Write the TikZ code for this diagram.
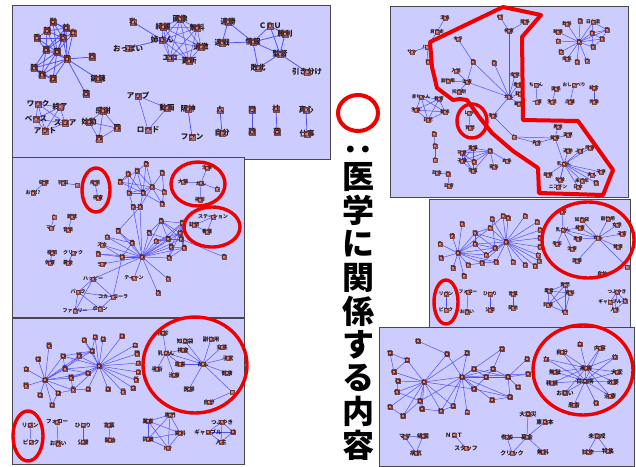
\documentclass[tikz,border=0pt]{standalone}
\usepackage{fontspec}
\setmainfont{Noto Sans CJK JP}
\definecolor{panel}{RGB}{204,204,255}
\definecolor{edgec}{RGB}{80,80,248}
\definecolor{mkf}{RGB}{245,125,95}
\definecolor{mkd}{RGB}{105,45,40}
\definecolor{txt}{RGB}{35,25,25}
\definecolor{ringred}{RGB}{238,0,0}
\pgfdeclarelayer{bg}
\pgfdeclarelayer{edges}
\pgfsetlayers{bg,edges,main}
\newcommand\mkclique[1]{%
  \foreach \u [count=\ci] in {#1}{%
    \foreach \v [count=\cj] in {#1}{%
      \ifnum\ci<\cj\relax\draw[edge] (\u.center)--(\v.center);\fi}}}
\begin{document}
\begin{tikzpicture}[x=1pt,y=-1pt,
  pnl/.style={draw=black!72, line width=0.9pt, fill=panel},
  edge/.style={draw=edgec, line width=0.5pt},
  mko/.style={fill=mkd, fill opacity=0.55, draw=mkd, draw opacity=0.8, line width=0.3pt, minimum width=3.6pt, minimum height=3.6pt, inner sep=0pt, outer sep=0pt},
  mki/.style={fill=mkf, draw=none, minimum width=1.7pt, minimum height=1.7pt, inner sep=0pt, outer sep=0pt},
  mkbo/.style={mko, minimum width=6pt, minimum height=6pt, line width=0.4pt},
  mkbi/.style={mki, minimum width=2.6pt, minimum height=2.6pt},
  nd/.style={inner sep=0pt, text=txt, font=\fontsize{#1}{#1}\selectfont\bfseries, label={[mko]center:}, label={[mki]center:}},
  nd/.default=5,
  nb/.style={inner sep=0pt, text=txt, font=\fontsize{7.5}{7.5}\selectfont\bfseries, label={[mkbo]center:}, label={[mkbi]center:}},
  ring/.style={draw=ringred, line width=3.4pt},
  bigt/.style={inner sep=0pt, font=\fontsize{32}{32}\selectfont\bfseries, text=black}]
\useasboundingbox (0,0) rectangle (636,466);
\begin{pgfonlayer}{bg}
\fill[white] (0,0) rectangle (636,466);
\draw[pnl] (12,5) rectangle (330,159);
\draw[pnl] (390,6) rectangle (628,197);
\draw[pnl] (12,157) rectangle (244,317);
\draw[pnl] (429,199) rectangle (630,327);
\draw[pnl] (12,318) rectangle (244,464);
\draw[pnl] (379,327) rectangle (634,466);
\end{pgfonlayer}

% ---------------- Panel 1 ----------------
\node[nb] (Aa1) at (53,22) {髪};
\node[nb] (Aa2) at (66,28) {首};
\node[nb] (Aa3) at (47,31) {顔};
\node[nb] (Aa4) at (73,33) {炎};
\node[nb] (Aa5) at (37,38) {舌};
\node[nb] (Aa6) at (63,38) {肌};
\node[nb] (Aa7) at (46,50) {肩};
\node[nb] (Aa8) at (57,52) {腰};
\node[nb] (Aa9) at (67,59) {胃};
\node[nb] (Aa10) at (92,57) {筋};
\node[nb] (Aa11) at (34,68) {腕};
\node[nb] (Aa12) at (42,75) {胸};
\node[nb] (Aa13) at (53,79) {腹};
\node[nb] (Aa14) at (98,79) {鍛錬};
\node[nb] (Aa15) at (86,94) {薬};
\node[nb] (Ab1) at (133,22) {乳};
\node[nb] (Ab2) at (162,40) {姉さん};
\node[nb] (Ab3) at (128,48) {おっぱい};
\node[nb] (Ab4) at (163,27) {綺麗};
\node[nb] (Ab5) at (180,19) {画像};
\node[nb] (Ab6) at (197,28) {無料};
\node[nb] (Ab7) at (201,47) {過激};
\node[nb] (Ab8) at (170,58) {エロ};
\node[nb] (Ab9) at (189,61) {更新};
\node[nb] (Ac1) at (228,22) {連勝};
\node[nb] (Ac2) at (222,43) {連戦};
\node[nb] (Ac3) at (253,42) {情報};
\node[nb] (Ac4) at (270,26) {ＣＰＵ};
\node[nb] (Ac5) at (285,34) {勝利};
\node[nb] (Ac6) at (280,54) {監督};
\node[nb] (Ac7) at (258,68) {敗北};
\node[nb] (Ac8) at (307,72) {引き分け};
\node[nb] (Ad1) at (38,104) {ワーク};
\node[nb] (Ad2) at (60,107) {終了};
\node[nb] (Ad3) at (36,119) {ベース};
\node[nb] (Ad4) at (65,123) {スコア};
\node[nb] (Ad5) at (45,131) {アウト};
\node[nb] (Ae1) at (103,111) {感謝};
\node[nb] (Ae2) at (89,122) {始動};
\node[nb] (Ae3) at (117,128) {再};
\node[nb] (Ae4) at (99,139) {声};
\node[nb] (Af1) at (138,96) {アップ};
\node[nb] (Af2) at (167,108) {動画};
\node[nb] (Af3) at (148,130) {ロード};
\node[nb] (Ag1) at (188,109) {阪神};
\node[nb] (Ag2) at (192,137) {ファン};
\node[nb] (Ah1) at (220,110) {人};
\node[nb] (Ah2) at (222,133) {自分};
\node[nb] (Ai1) at (252,110) {問};
\node[nb] (Ai2) at (252,132) {題};
\node[nb] (Aj1) at (276,109) {枕};
\node[nb] (Aj2) at (277,132) {著};
\node[nb] (Ak1) at (306,110) {真心};
\node[nb] (Ak2) at (307,134) {仕事};

% ---------------- Panel 2 ----------------
\node[nd=4.6] (Bt1) at (445,18) {漢島};
\node[nd=4.6] (Bt2) at (437,32) {貝宮史};
\node[nd=4.6] (Bt3) at (427,47) {ハウ};
\node[nd=4.6] (Bt4) at (412,52) {サン};
\node[nd=4.6] (Bt5) at (428,62) {新};
\node[nd=4.6] (Bm1) at (500,17) {OT};
\node[nd=4.6] (Bm2) at (525,22) {関係};
\node[nd=4.6] (Bm3) at (509,31) {検査};
\node[nd=4.6] (Bm4) at (458,39) {キラ};
\node[nd=4.6] (Bm5) at (473,62) {菌};
\node[nd=4.6] (Bm6) at (494,63) {薬};
\node[nd=4.6] (Bm7) at (456,71) {入院};
\node[nd=4.6] (Bm8) at (448,81) {副作用};
\node[nd=4.6] (Bm9) at (467,82) {治療};
\node[nd=4.6] (Bm10) at (459,92) {抗癌剤};
\node[nd=4.6] (Bm11) at (515,75) {病院};
\node[nd=4.6] (Bm12) at (518,85) {患者};
\node[nd=4.6] (Bm13) at (520,94) {転移};
\node[nd=4.6] (Bm14) at (509,97) {がん};
\node[nd=4.6] (Bm15) at (519,104) {細胞};
\node[nd=4.6] (Bm16) at (493,116) {手術};
\node[nd=4.6] (Bm17) at (514,137) {人};
\node[nd=4.6] (Bs1) at (469,113) {レバ};
\node[nd=4.6] (Bs2) at (470,128) {質問};
\node[nd=4.6] (Bn2) at (558,127) {男性};
\node[nd=4.6] (Bn3) at (555,138) {健康};
\node[nd=4.6] (Bn4) at (568,135) {変更};
\node[nd=4.6] (Bn5) at (537,143) {先生};
\node[nd=4.6] (Bn6) at (568,151) {運動};
\node[nd=4.6] (Bn7) at (580,151) {ぶず};
\node[nd=4.6] (Bn8) at (590,148) {障害};
\node[nd=4.6] (Bn9) at (564,164) {乳がん};
\node[nd=4.6] (Bn10) at (601,172) {子供};
\node[nd=4.6] (Bn11) at (592,175) {夫人};
\node[nd=4.6] (Bn12) at (596,183) {膣};
\node[nd=4.6] (Bn13) at (548,175) {母親};
\node[nd=4.6] (Bn14) at (560,180) {年齢};
\node[nd=4.6] (Bn15) at (582,181) {未成年};
\node[nd=4.6] (Bn16) at (578,187) {日本};
\node[nd=4.6] (Bn17) at (558,187) {ニコチン};
\node[nd=4.6] (Bl1) at (421,97) {赤ちゃん};
\node[nd=4.6] (Bl2) at (439,99) {教育};
\node[nd=4.6] (Bl3) at (416,110) {生後};
\node[nd=4.6] (Bl4) at (445,112) {新米};
\node[nd=4.6] (Bl5) at (428,120) {日記};
\node[nd=4.6] (Bo1) at (434,134) {思};
\node[nd=4.6] (Bo2) at (435,146) {母};
\node[nd=4.6] (Bo3) at (435,160) {女};
\node[nd=4.6] (Bw1) at (473,148) {愛猫};
\node[nd=4.6] (Bw2) at (462,153) {可愛};
\node[nd=4.6] (Bw3) at (462,161) {子猫};
\node[nd=4.6] (Bw4) at (474,162) {暗};
\node[nd=4.6] (Bw5) at (490,151) {猫};
\node[nd=4.6] (Bw6) at (473,171) {写真};
\node[nd=4.6] (Bw7) at (507,161) {ぬあ};
\node[nd=4.6] (Bw8) at (494,167) {猫缶};
\node[nd=4.6] (Bx1) at (437,173) {政治};
\node[nd=4.6] (Bx2) at (448,174) {国};
\node[nd=4.6] (Bx3) at (449,186) {政府};
\node[nd=4.6] (By1) at (567,24) {飲料};
\node[nd=4.6] (By2) at (580,21) {酒};
\node[nd=4.6] (By3) at (593,22) {日本酒};
\node[nd=4.6] (By4) at (558,32) {睡眠};
\node[nd=4.6] (By5) at (558,41) {水};
\node[nd=4.6] (By6) at (579,42) {茶};
\node[nd=4.6] (By7) at (592,33) {肉};
\node[nd=4.6] (By8) at (607,30) {葉};
\node[nd=4.6] (By9) at (602,39) {熱};
\node[nd=4.6] (By10) at (593,47) {糖};
\node[nd=4.6] (By11) at (561,52) {酢};
\node[nd=4.6] (By12) at (567,59) {病気};
\node[nd=4.6] (By13) at (577,62) {塩};
\node[nd=4.6] (By14) at (587,61) {味};
\node[nd=4.6] (Bz1) at (536,85) {ちゃん};
\node[nd=4.6] (Bz2) at (537,102) {一緒};
\node[nd=4.6] (Bz3) at (556,89) {国民};
\node[nd=4.6] (Bz4) at (552,102) {生活};
\node[nd=4.6] (Bz5) at (574,85) {おしゃべり};
\node[nd=4.6] (Bz6) at (570,102) {店舗};
\node[nd=4.6] (Bz7) at (594,88) {結合};
\node[nd=4.6] (Bz8) at (594,102) {労働};

% ---------------- Panel 3 ----------------
\node[nd] (Cr1) at (44,183) {研修};
\node[nd] (Cr2) at (33,193) {お母!?};
\node[nd] (Cr3) at (63,183) {羽田};
\node[nd] (Cr4) at (77,185) {};
\node[nd] (Cr5) at (95,183) {病院};
\node[nd] (Cr6) at (98,198) {検査};
\node[nd] (Cr7) at (54,217) {0};
\node[nd] (Cr8) at (51,228) {マイ};
\node[nd] (Cr9) at (72,217) {雑誌};
\node[nd] (Cr10) at (68,230) {音楽};
\node[nd] (Cr11) at (52,253) {福岡};
\node[nd] (Cr12) at (50,263) {佐賀};
\node[nd] (Cr13) at (73,253) {クリック};
\node[nd] (Cr14) at (68,263) {募金};
\node[nd] (Cu1) at (207,168) {治療};
\node[nd] (Cu2) at (183,182) {大腸};
\node[nd] (Cu3) at (201,183) {がん};
\node[nd] (Cu4) at (217,189) {人};
\node[nd] (Cu5) at (200,200) {検診};
\node[nd] (Cv1) at (213,217) {ステーション};
\node[nd] (Cv2) at (194,225) {訪問};
\node[nd] (Cv3) at (207,232) {看護};
\node[nd] (Ck1) at (146,164) {春};
\node[nd] (Ck2) at (128,174) {梅};
\node[nd] (Ck3) at (137,171) {桜};
\node[nd] (Ck4) at (162,173) {花};
\node[nd] (Ck5) at (120,182) {夏};
\node[nd] (Ck6) at (152,187) {月};
\node[nd] (Ck7) at (129,193) {秋};
\node[nd] (Ck8) at (143,193) {雪};
\node[nd] (Ck9) at (164,192) {冬};
\node[nd] (Ck10) at (133,207) {雨};
\node[nd] (Ck11) at (140,207) {晴};
\node[nd] (Ck12) at (162,204) {風};
\node[nd] (Cg1) at (161,221) {星};
\node[nd] (Cg2) at (182,223) {愛};
\node[nd] (Cg3) at (149,233) {夢};
\node[nd] (Cg4) at (156,241) {心};
\node[nd] (Cg5) at (168,239) {空};
\node[nd] (Cg6) at (181,239) {海};
\node[nd] (Cg7) at (180,233) {光};
\node[nd] (Cg8) at (118,231) {雲};
\node[nd] (Cg9) at (107,237) {水};
\node[nd] (Cg10) at (132,243) {風};
\node[nd] (Cg11) at (171,247) {君};
\node[nd] (Cg12) at (184,248) {僕};
\node[nd] (Cg13) at (169,258) {歌};
\node[nd] (Cg14) at (224,257) {恋};
\node[nd] (Cg15) at (102,245) {ズカ};
\node[nd] (Cg16) at (98,254) {音};
\node[nd] (Cg17) at (122,257) {絵};
\node[nd] (Cg18) at (142,257) {私};
\node[nd] (Cg19) at (102,264) {ラブ};
\node[nd] (Cg20) at (93,279) {ハッピー};
\node[nd] (Cg21) at (134,278) {ティーン};
\node[nd] (Cg22) at (168,279) {友};
\node[nd] (Cg23) at (158,293) {旅};
\node[nd] (Cg24) at (78,292) {パーク};
\node[nd] (Cg25) at (113,297) {コカ・コーラ};
\node[nd] (Cg26) at (75,311) {ファミリー};
\node[nd] (Cg27) at (100,309) {ボタン};

% ---------------- Panel 4 ----------------
\node[nd=4.7] (Dq1) at (462,224) {寝};
\node[nd=4.7] (Dq2) at (452,236) {帽};
\node[nd=4.7] (Dq3) at (440,244) {食};
\node[nd=4.7] (Dq4) at (441,258) {眠};
\node[nd=4.7] (Dq5) at (453,268) {服};
\node[nd=4.7] (Dq6) at (464,276) {靴};
\node[nd=4.7] (Dq7) at (458,253) {顔};
\node[nd=4.7] (Dq8) at (468,265) {彩};
\node[nd=4.7] (Dq9) at (475,233) {鶏};
\node[nd=4.7] (Dq10) at (475,244) {肌};
\node[nd=4.7] (Dq11) at (482,263) {眼};
\node[nd=4.7] (Dq12) at (492,219) {足};
\node[nd=4.7] (Dq13) at (490,228) {手};
\node[nd=4.7] (Dq14) at (503,216) {髪};
\node[nd=4.7] (Dq15) at (508,218) {腕};
\node[nd=4.7] (Dq16) at (495,248) {頭};
\node[nd=4.7] (Dq17) at (496,262) {胸};
\node[nd=4.7] (Dq18) at (486,255) {骨};
\node[nd=4.7] (Dq19) at (506,242) {耳};
\node[nd=4.7] (Dq20) at (525,216) {鼻};
\node[nd=4.7] (Dq21) at (513,262) {舌};
\node[nd=4.7] (Dq22) at (525,265) {尻};
\node[nd=4.7] (Dq23) at (535,266) {歯};
\node[nd=4.7] (Dq24) at (537,222) {背};
\node[nd=4.7] (Dq25) at (540,230) {指};
\node[nd=4.7] (Dq26) at (540,238) {腹};
\node[nd=4.7] (Dq27) at (540,247) {腰};
\node[nd=4.7] (Dq28) at (538,255) {太};
\node[nd=4.7] (Dq29) at (539,261) {爪};
\node[nd=4.7] (Dsa) at (562,212) {検診};
\node[nd=4.7] (Dsb) at (582,220) {知恵袋};
\node[nd=4.7] (Dsc) at (608,219) {副作用};
\node[nd=4.7] (Dsd) at (617,225) {女性};
\node[nd=4.7] (Dse) at (563,230) {乳がん};
\node[nd=4.7] (Dsf) at (580,228) {検査};
\node[nd=4.7] (Dsg) at (622,234) {子宮};
\node[nd=4.7] (Dsh) at (557,244) {手術};
\node[nd=4.7] (Dsi) at (578,239) {患者};
\node[nd=4.7] (Dsj) at (598,238) {がん};
\node[nd=4.7] (Dsk) at (572,249) {治療};
\node[nd=4.7] (Dsl) at (618,247) {健康};
\node[nd=4.7] (Dsm) at (577,261) {医師};
\node[nd=4.7] (Dsn) at (602,274) {自分};
\node[nd=4.7] (Dso) at (627,267) {};
\node[nd=4.7] (Dta) at (446,294) {リボン};
\node[nd=4.7] (Dtb) at (446,310) {ピンク};
\node[nd=4.7] (Dtc) at (468,292) {フォロー};
\node[nd=4.7] (Dtd) at (467,312) {お願い};
\node[nd=4.7] (Dte) at (490,294) {ひとり};
\node[nd=4.7] (Dtf) at (490,310) {公開};
\node[nd=4.7] (Dtg) at (513,294) {言葉};
\node[nd=4.7] (Dth) at (513,308) {開始};
\node[nd=4.7] (Dti) at (565,285) {専門};
\node[nd=4.7] (Dtj) at (549,291) {業者};
\node[nd=4.7] (Dtk) at (570,293) {資料};
\node[nd=4.7] (Dtl) at (548,305) {詳細};
\node[nd=4.7] (Dtm) at (565,312) {HP};
\node[nd=4.7] (Dtn) at (617,292) {つぶやき};
\node[nd=4.7] (Dto) at (610,302) {ギャンブル};
\node[nd=4.7] (Dtp) at (625,301) {縁};
\node[nd=4.7] (Dtq) at (615,310) {人生};

% ---------------- Panel 5 ----------------
\node[nd=5.5] (Eq1) at (49,346) {服};
\node[nd=5.5] (Eq2) at (38,359) {帽};
\node[nd=5.5] (Eq3) at (26,369) {食};
\node[nd=5.5] (Eq4) at (26,386) {眠};
\node[nd=5.5] (Eq5) at (40,395) {靴};
\node[nd=5.5] (Eq6) at (45,380) {顔};
\node[nd=5.5] (Eq7) at (63,356) {鶏};
\node[nd=5.5] (Eq8) at (65,369) {肌};
\node[nd=5.5] (Eq9) at (71,378) {眼};
\node[nd=5.5] (Eq10) at (73,390) {骨};
\node[nd=5.5] (Eq11) at (79,356) {頭};
\node[nd=5.5] (Eq12) at (84,340) {手};
\node[nd=5.5] (Eq13) at (95,337) {足};
\node[nd=5.5] (Eq14) at (103,339) {髪};
\node[nd=5.5] (Eq15) at (122,336) {腕};
\node[nd=5.5] (Eq16) at (92,351) {耳};
\node[nd=5.5] (Eq17) at (88,373) {胸};
\node[nd=5.5] (Eq18) at (88,389) {鼻};
\node[nd=5.5] (Eq19) at (99,366) {背};
\node[nd=5.5] (Eq20) at (58,393) {指};
\node[nd=5.5] (Eq21) at (52,405) {彩};
\node[nd=5.5] (Eq22) at (108,389) {腹};
\node[nd=5.5] (Eq23) at (123,392) {尻};
\node[nd=5.5] (Eq24) at (133,388) {歯};
\node[nd=5.5] (Eq25) at (135,345) {太};
\node[nd=5.5] (Eq26) at (137,354) {腰};
\node[nd=5.5] (Eq27) at (138,363) {爪};
\node[nd=5.5] (Eq28) at (138,372) {舌};
\node[nd=5.5] (Eq29) at (136,380) {唇};
\node[nd=5.5] (Esa) at (163,333) {検診};
\node[nd=5.5] (Esb) at (185,341) {知恵袋};
\node[nd=5.5] (Esc) at (211,339) {副作用};
\node[nd=5.5] (Esd) at (222,347) {女性};
\node[nd=5.5] (Ese) at (166,353) {乳がん};
\node[nd=5.5] (Esf) at (183,350) {検査};
\node[nd=5.5] (Esg) at (228,358) {子宮};
\node[nd=5.5] (Esh) at (157,369) {手術};
\node[nd=5.5] (Esi) at (180,364) {患者};
\node[nd=5.5] (Esj) at (203,364) {がん};
\node[nd=5.5] (Esk) at (174,375) {治療};
\node[nd=5.5] (Esl) at (227,373) {健康};
\node[nd=5.5] (Esm) at (189,389) {医師};
\node[nd=5.5] (Esn) at (209,402) {自分};
\node[nd=5.5] (Eso) at (232,392) {};
\node[nd=5.5] (Eta) at (30,425) {リボン};
\node[nd=5.5] (Etb) at (31,442) {ピンク};
\node[nd=5.5] (Etc) at (57,422) {フォロー};
\node[nd=5.5] (Etd) at (58,444) {お願い};
\node[nd=5.5] (Ete) at (83,425) {ひとり};
\node[nd=5.5] (Etf) at (83,442) {公開};
\node[nd=5.5] (Etg) at (109,425) {言葉};
\node[nd=5.5] (Eth) at (110,440) {開始};
\node[nd=5.5] (Eti) at (170,415) {専門};
\node[nd=5.5] (Etj) at (148,421) {業者};
\node[nd=5.5] (Etk) at (180,433) {資料};
\node[nd=5.5] (Etl) at (148,439) {詳細};
\node[nd=5.5] (Etm) at (168,448) {HP};
\node[nd=5.5] (Etn) at (222,422) {つぶやき};
\node[nd=5.5] (Eto) at (208,432) {ギャンブル};
\node[nd=5.5] (Etp) at (233,432) {縁};
\node[nd=5.5] (Etq) at (221,442) {人生};

% ---------------- Panel 6 ----------------
\node[nd=5.8] (Fv1) at (418,341) {株};
\node[nd=5.8] (Fv2) at (390,353) {雪};
\node[nd=5.8] (Fv3) at (407,360) {宝};
\node[nd=5.8] (Fv4) at (394,372) {幡};
\node[nd=5.8] (Fv5) at (398,381) {種};
\node[nd=5.8] (Fv6) at (397,392) {例};
\node[nd=5.8] (Fv7) at (390,407) {季};
\node[nd=5.8] (Fv8) at (403,416) {鍋};
\node[nd=5.8] (Fv9) at (420,401) {寒};
\node[nd=5.8] (Fv10) at (422,409) {暖};
\node[nd=5.8] (Fv11) at (441,411) {熱};
\node[nd=5.8] (Fv12) at (453,406) {温};
\node[nd=5.8] (Fv13) at (424,382) {冬};
\node[nd=5.8] (Fv14) at (447,354) {春};
\node[nd=5.8] (Fv15) at (467,353) {夏};
\node[nd=5.8] (Fv16) at (462,377) {秋};
\node[nd=5.8] (Fv17) at (467,412) {え};
\node[nd=5.8] (Fv18) at (474,369) {雨};
\node[nd=5.8] (Fv19) at (493,369) {雲};
\node[nd=5.8] (Fv20) at (486,377) {雷};
\node[nd=5.8] (Fv21) at (502,349) {霧};
\node[nd=5.8] (Fv22) at (527,359) {星};
\node[nd=5.8] (Fv23) at (528,374) {空};
\node[nd=5.8] (Fv24) at (508,377) {風};
\node[nd=5.8] (Fv25) at (518,387) {虹};
\node[nd=5.8] (Fv26) at (474,389) {晴};
\node[nd=5.8] (Fv27) at (492,400) {嵐};
\node[nd=5.8] (Fv28) at (510,397) {霜};
\node[nd=5.8] (Fx1) at (580,344) {血};
\node[nd=5.8] (Fx2) at (562,352) {自分};
\node[nd=5.8] (Fx3) at (600,348) {内容};
\node[nd=5.8] (Fx4) at (546,359) {力};
\node[nd=5.8] (Fx5) at (615,357) {体};
\node[nd=5.8] (Fx6) at (586,368) {疾病};
\node[nd=5.8] (Fx7) at (555,372) {無駄};
\node[nd=5.8] (Fx8) at (617,372) {大変};
\node[nd=5.8] (Fx9) at (585,381) {白血病};
\node[nd=5.8] (Fx10) at (552,383) {移植};
\node[nd=5.8] (Fx11) at (613,382) {必要};
\node[nd=5.8] (Fx12) at (565,393) {お願い};
\node[nd=5.8] (Fx13) at (610,396) {治療};
\node[nd=5.8] (Fx14) at (574,405) {患者};
\node[nd=5.8] (Fx15) at (596,403) {希};
\node[nd=5.8] (Fza) at (528,414) {大震災};
\node[nd=5.8] (Fzb) at (545,422) {東日本};
\node[nd=5.8] (Fzc) at (507,437) {参加};
\node[nd=5.8] (Fzd) at (527,437) {募金};
\node[nd=5.8] (Fze) at (512,453) {クリック};
\node[nd=5.8] (Fzf) at (543,452) {無料};
\node[nd=5.8] (Fzg) at (405,437) {ママ};
\node[nd=5.8] (Fzh) at (423,436) {帰国};
\node[nd=5.8] (Fzi) at (416,453) {病気};
\node[nd=5.8] (Fzj) at (454,435) {ＮＥＴ};
\node[nd=5.8] (Fzk) at (466,448) {スタッフ};
\node[nd=5.8] (Fzl) at (597,436) {未完成};
\node[nd=5.8] (Fzm) at (588,452) {試作};
\node[nd=5.8] (Fzn) at (608,451) {特集};

% ---------------- Edges ----------------
\begin{pgfonlayer}{edges}
% panel 1
\begin{scope}[every path/.append style={line width=0.75pt}]
\foreach \p/\q in {Aa1/Aa2,Aa1/Aa3,Aa1/Aa4,Aa1/Aa6,Aa1/Aa8,Aa2/Aa3,Aa2/Aa4,Aa2/Aa6,Aa2/Aa7,Aa2/Aa9,Aa3/Aa5,Aa3/Aa6,Aa3/Aa7,Aa3/Aa8,Aa4/Aa6,Aa4/Aa8,Aa4/Aa9,Aa5/Aa6,Aa5/Aa7,Aa6/Aa7,Aa6/Aa8,Aa6/Aa9,Aa7/Aa8,Aa7/Aa9,Aa7/Aa11,Aa7/Aa12,Aa8/Aa9,Aa8/Aa11,Aa8/Aa12,Aa8/Aa13,Aa9/Aa10,Aa9/Aa11,Aa9/Aa12,Aa9/Aa13,Aa9/Aa14,Aa9/Aa15,Aa11/Aa12,Aa12/Aa13,Aa11/Aa13,Aa5/Aa8,Aa2/Aa8,
  Ab1/Ab2,Ab3/Ab2,
  Ac1/Ac2,Ac1/Ac3,Ac2/Ac3,Ac3/Ac4,Ac3/Ac5,Ac3/Ac6,Ac3/Ac7,Ac4/Ac5,Ac4/Ac6,Ac5/Ac6,Ac6/Ac7,Ac6/Ac8,
  Ag1/Ag2,Ah1/Ah2,Ai1/Ai2,Aj1/Aj2,Ak1/Ak2}
  \draw[edge, line width=0.75pt] (\p.center)--(\q.center);
\end{scope}
\mkclique{Ab2,Ab4,Ab5,Ab6,Ab7,Ab8,Ab9}
\mkclique{Ad1,Ad2,Ad3,Ad4,Ad5}
\mkclique{Ae1,Ae2,Ae3,Ae4}
\mkclique{Af1,Af2,Af3}
% panel 2
\foreach \p/\q in {Bt1/Bt2,Bt2/Bt3,Bt3/Bt4,Bt3/Bt5,
  Bm1/Bm3,Bm2/Bm3,Bm3/Bm14,Bm4/Bm5,Bm5/Bm9,Bm5/Bm14,Bm7/Bm9,Bm8/Bm9,Bm10/Bm9,Bm9/Bm14,Bm6/Bm14,Bm11/Bm14,Bm12/Bm14,Bm13/Bm14,Bm15/Bm14,Bm14/Bm16,Bm16/Bm17,
  Bs1/Bs2,
  Bm17/Bn5,Bm17/Bn3,Bn3/Bn2,Bn3/Bn4,Bn3/Bn5,Bn3/Bn9,Bn9/Bn6,Bn9/Bn7,Bn9/Bn8,Bn9/Bn10,Bn9/Bn11,Bn9/Bn12,Bn9/Bn13,Bn9/Bn14,Bn9/Bn15,Bn9/Bn16,Bn9/Bn17,
  Bo1/Bo2,Bo2/Bo3,
  Bw5/Bw7,Bw5/Bw8,
  Bx1/Bx2,Bx2/Bx3,
  By6/By1,By6/By2,By6/By3,By6/By4,By6/By5,By6/By7,By6/By8,By6/By9,By6/By10,By6/By11,By6/By12,By6/By13,By6/By14,By3/By7,By3/By8,By7/By8,By7/By9,By8/By9,By9/By10,By7/By10,
  Bz1/Bz2,Bz3/Bz4,Bz5/Bz6,Bz7/Bz8}
  \draw[edge] (\p.center)--(\q.center);
\mkclique{Bl1,Bl2,Bl3,Bl4,Bl5}
\mkclique{Bw1,Bw2,Bw3,Bw4,Bw5,Bw6}
% panel 3
\foreach \p/\q in {Cr1/Cr2,Cr3/Cr4,Cr5/Cr6,Cr7/Cr8,Cr9/Cr10,Cr11/Cr12,Cr13/Cr14,
  Cu3/Cu1,Cu3/Cu2,Cu3/Cu4,Cu3/Cu5,
  Ck1/Ck3,Ck1/Ck6,Ck1/Ck8,Ck2/Ck5,Ck2/Ck7,Ck2/Ck8,Ck3/Ck5,Ck3/Ck6,Ck3/Ck8,Ck3/Ck7,Ck4/Ck6,Ck4/Ck9,Ck5/Ck6,Ck5/Ck8,Ck6/Ck7,Ck6/Ck8,Ck6/Ck9,Ck6/Ck12,Ck7/Ck8,Ck7/Ck10,Ck8/Ck11,Ck8/Ck12,Ck6/Ck11,Ck9/Ck12,Ck10/Ck11,
  Ck10/Cg18,Ck11/Cg18,Ck11/Cg8,
  Cg18/Cg8,Cg18/Cg9,Cg18/Cg15,Cg18/Cg16,Cg18/Cg17,Cg18/Cg19,Cg18/Cg20,Cg18/Cg21,Cg18/Cg22,Cg18/Cg23,Cg18/Cg3,Cg18/Cg4,Cg18/Cg5,Cg18/Cg1,Cg18/Cg2,Cg18/Cg11,Cg18/Cg12,Cg18/Cg13,Cg18/Cg6,Cg18/Cg7,Cg18/Cg10,
  Cg1/Cg2,Cg1/Cg3,Cg1/Cg5,Cg1/Cg6,Cg1/Cg7,Cg2/Cg5,Cg2/Cg6,Cg2/Cg7,Cg2/Cg11,Cg2/Cg12,Cg3/Cg5,Cg4/Cg5,Cg4/Cg6,Cg5/Cg6,Cg5/Cg11,Cg6/Cg12,Cg7/Cg12,Cg7/Cg13,Cg11/Cg12,Cg11/Cg13,Cg12/Cg13,Cg6/Cg14,Cg7/Cg4,Cg16/Cg17,Cg15/Cg17,Cg9/Cg10,Cg8/Cg10,Cg10/Cg17,
  Cg20/Cg24,Cg20/Cg25,Cg20/Cg26,Cg24/Cg25,Cg24/Cg26,Cg24/Cg27,Cg25/Cg27,Cg26/Cg27,Cg17/Cg25}
  \draw[edge] (\p.center)--(\q.center);
\mkclique{Cv1,Cv2,Cv3}
% panel 4
\foreach \q in {Dq1,Dq2,Dq3,Dq4,Dq5,Dq6,Dq8,Dq9,Dq10,Dq11,Dq13,Dq16,Dq17,Dq18}
  \draw[edge] (Dq7.center)--(\q.center);
\foreach \q in {Dq12,Dq13,Dq14,Dq15,Dq20,Dq24,Dq25,Dq26,Dq27,Dq28,Dq29,Dq23,Dq22,Dq21,Dq16,Dq17,Dq18,Dq9,Dq10,Dq11}
  \draw[edge] (Dq19.center)--(\q.center);
\foreach \p/\q in {Dq9/Dq10,Dq10/Dq16,Dq9/Dq13,Dq13/Dq14,Dq12/Dq16,Dq16/Dq18,Dq17/Dq11,Dq8/Dq11,Dq10/Dq18,Dq9/Dq16,
  Dse/Dsa,Dse/Dsf,Dse/Dsi,Dse/Dsh,Dse/Dsk,Dse/Dsj,Dsj/Dsb,Dsj/Dsc,Dsj/Dsd,Dsj/Dsg,Dsj/Dsl,Dsj/Dsm,Dsj/Dso,Dsj/Dsi,Dsn/Dso,Dsf/Dsj,
  Dta/Dtb,Dtc/Dtd,Dte/Dtf,Dtg/Dth}
  \draw[edge] (\p.center)--(\q.center);
\mkclique{Dti,Dtj,Dtk,Dtl,Dtm}
\mkclique{Dtn,Dto,Dtp,Dtq}
% panel 5
\foreach \q in {Eq1,Eq2,Eq3,Eq4,Eq5,Eq7,Eq8,Eq9,Eq10,Eq11,Eq17,Eq20,Eq21,Eq16}
  \draw[edge] (Eq6.center)--(\q.center);
\foreach \q in {Eq11,Eq12,Eq13,Eq14,Eq15,Eq16,Eq17,Eq18,Eq22,Eq23,Eq24,Eq25,Eq26,Eq27,Eq28,Eq29,Eq7,Eq8,Eq9,Eq10}
  \draw[edge] (Eq19.center)--(\q.center);
\foreach \p/\q in {Eq7/Eq8,Eq8/Eq11,Eq11/Eq16,Eq16/Eq12,Eq9/Eq17,Eq10/Eq18,Eq20/Eq10,Eq20/Eq21,Eq13/Eq16,Eq7/Eq16,Eq8/Eq17,Eq9/Eq10,
  Ese/Esa,Ese/Esf,Ese/Esh,Ese/Esi,Ese/Esk,Ese/Esj,Esj/Esb,Esj/Esc,Esj/Esd,Esj/Esg,Esj/Esl,Esj/Esm,Esj/Eso,Esj/Esi,Esn/Eso,Esf/Esj,
  Eta/Etb,Etc/Etd,Ete/Etf,Etg/Eth}
  \draw[edge] (\p.center)--(\q.center);
\mkclique{Eti,Etj,Etk,Etl,Etm}
\mkclique{Etn,Eto,Etp,Etq}
% panel 6
\foreach \q in {Fv3,Fv4,Fv5,Fv6,Fv7,Fv8,Fv9,Fv10,Fv11,Fv12,Fv14,Fv16,Fv26}
  \draw[edge] (Fv13.center)--(\q.center);
\foreach \q in {Fv14,Fv15,Fv18,Fv19,Fv20,Fv21,Fv24,Fv23,Fv26,Fv27,Fv28,Fv12,Fv11,Fv17,Fv9}
  \draw[edge] (Fv16.center)--(\q.center);
\foreach \p/\q in {Fv2/Fv3,Fv2/Fv4,Fv3/Fv4,Fv1/Fv14,Fv19/Fv20,Fv19/Fv24,Fv18/Fv20,Fv20/Fv26,Fv23/Fv24,Fv22/Fv24,Fv21/Fv19,Fv24/Fv25,Fv24/Fv28,Fv27/Fv28,Fv18/Fv24,Fv26/Fv28,Fv9/Fv10,Fv5/Fv6,Fv6/Fv9,Fv7/Fv8,Fv8/Fv9,Fv10/Fv11,Fv11/Fv12,Fv13/Fv15,
  Fza/Fzd,Fzb/Fzd,Fzc/Fzd,Fzc/Fze,Fzd/Fze,Fzd/Fzf,Fzj/Fzk}
  \draw[edge] (\p.center)--(\q.center);
\foreach \q in {Fx1,Fx2,Fx3,Fx4,Fx5,Fx7,Fx8,Fx10,Fx11,Fx12,Fx13,Fx9}
  \draw[edge] (Fx6.center)--(\q.center);
\foreach \q in {Fx2,Fx3,Fx4,Fx5,Fx7,Fx8,Fx10,Fx11,Fx12,Fx13,Fx14,Fx15}
  \draw[edge] (Fx9.center)--(\q.center);
\mkclique{Fzg,Fzh,Fzi}
\mkclique{Fzl,Fzm,Fzn}
\end{pgfonlayer}

% ---------------- Red rings ----------------
\draw[ring, line width=4pt, line join=round]
  (430,42) -- (503,7) -- (541,15) -- (522,37) -- (523,120) -- (578,121) -- (613,170) -- (603,195)
  -- (539,193) -- (538,168) -- (513,151) -- (492,133) -- (480,118) -- (467,100) -- (460,99)
  -- (453,100) -- (437,88) -- (432,67) -- cycle;
\draw[ring] (472,121) ellipse [x radius=15, y radius=17];
\draw[ring] (96,190) ellipse [x radius=14, y radius=22];
\draw[ring] (198,184) ellipse [x radius=27, y radius=22];
\draw[ring] (212,227) ellipse [x radius=28, y radius=20];
\draw[ring] (588,240) ellipse [x radius=46, y radius=38];
\draw[ring] (446,302) ellipse [x radius=12, y radius=22];
\draw[ring] (195,365) ellipse [x radius=52, y radius=48];
\draw[ring] (28,436) ellipse [x radius=15, y radius=25];
\draw[ring] (583,370) ellipse [x radius=50, y radius=45];

% ---------------- Legend ----------------
\draw[ring, line width=4pt] (358,113) ellipse [x radius=20, y radius=18];
\node[bigt, rotate=-90] (L0) at (358,149) {：};
\node[bigt] (L1) at (358,177) {医};
\node[bigt] (L2) at (358,210.5) {学};
\node[bigt] (L3) at (358,244) {に};
\node[bigt] (L4) at (358,277.5) {関};
\node[bigt] (L5) at (358,311) {係};
\node[bigt] (L6) at (358,344.5) {す};
\node[bigt] (L7) at (358,378) {る};
\node[bigt] (L8) at (358,411.5) {内};
\node[bigt] (L9) at (358,445) {容};
\end{tikzpicture}
\end{document}
